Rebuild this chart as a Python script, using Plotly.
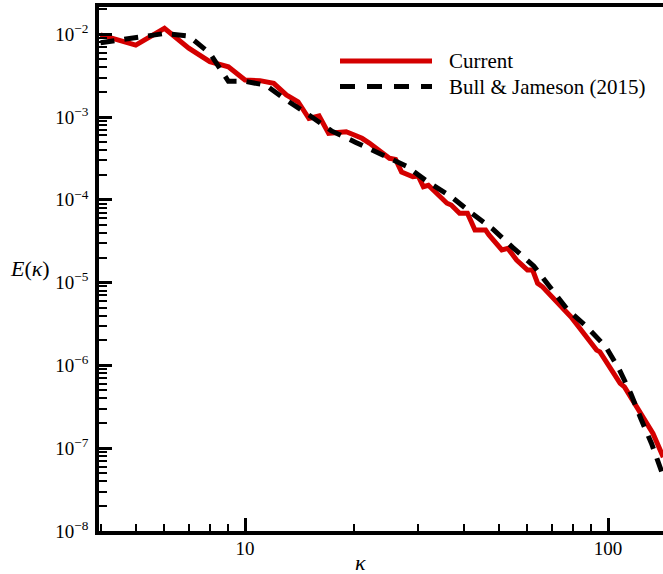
import math
import plotly.graph_objects as go

# ---- data ----
k_current = [4, 5, 6, 7, 8, 9, 10, 11, 12, 13, 14, 15, 16, 17, 18, 19, 20, 21, 22, 23, 24, 25, 26, 27,
             29, 30, 31, 32, 36, 37, 39, 41, 43, 46, 47, 51, 53, 56, 58, 60, 62, 64, 66, 71, 79, 83, 87,
             90, 93, 95, 100, 108, 111, 115, 122, 130, 133, 142]
e_current = [9.8e-3, 7.4e-3, 1.18e-2, 6.8e-3, 4.66e-3, 4.05e-3, 2.80e-3, 2.75e-3, 2.55e-3, 1.85e-3,
             1.53e-3, 9.6e-4, 1.03e-3, 6.35e-4, 6.5e-4, 6.64e-4, 6.07e-4, 5.53e-4, 4.85e-4, 4.19e-4,
             3.67e-4, 3.17e-4, 3.08e-4, 2.17e-4, 1.90e-4, 1.94e-4, 1.44e-4, 1.50e-4, 9.1e-5, 8.65e-5,
             6.87e-5, 6.87e-5, 4.31e-5, 4.31e-5, 3.76e-5, 2.48e-5, 2.59e-5, 1.87e-5, 1.63e-5, 1.42e-5,
             1.42e-5, 9.8e-6, 8.9e-6, 6.45e-6, 3.87e-6, 2.93e-6, 2.22e-6, 1.85e-6, 1.53e-6, 1.46e-6,
             1.03e-6, 6.08e-7, 5.5e-7, 4.3e-7, 2.8e-7, 1.75e-7, 1.51e-7, 7.8e-8]

k_bull = [4, 5, 6, 7, 8, 9, 10, 11.4, 13, 15, 17.3, 20.2, 23.6, 27.8, 31.8, 36.9, 42.2, 48.2, 54.7,
          62.5, 69.2, 77.1, 87.5, 98.7, 107.2, 115.7, 123.3, 131.8, 140, 142]
e_bull = [7.9e-3, 9.0e-3, 1.02e-2, 9.5e-3, 5.9e-3, 2.7e-3, 2.7e-3, 2.43e-3, 1.60e-3, 1.06e-3, 6.8e-4,
          4.94e-4, 3.65e-4, 2.56e-4, 1.66e-4, 1.10e-4, 6.84e-5, 4.43e-5, 2.65e-5, 1.58e-5, 8.85e-6,
          4.80e-6, 2.91e-6, 1.67e-6, 9.06e-7, 4.52e-7, 2.25e-7, 1.14e-7, 5.46e-8, 4.6e-8]

series_names = ["Current", "Bull & Jameson (2015)"]

y_tickvals = [1e-8, 1e-7, 1e-6, 1e-5, 1e-4, 1e-3, 1e-2]
y_ticktext = ["10<sup>\u22128</sup>", "10<sup>\u22127</sup>", "10<sup>\u22126</sup>",
              "10<sup>\u22125</sup>", "10<sup>\u22124</sup>", "10<sup>\u22123</sup>",
              "10<sup>\u22122</sup>"]
x_tickvals = [10, 100]
x_ticktext = ["10", "100"]

# ---- styling ----
FONT = "Liberation Serif, Times New Roman, serif"
RED = "#d40000"
W, H = 663, 574
ML, MR, MT, MB = 99, 0, 7, 43
PW, PH = W - ML - MR, H - MT - MB

x_minor = [m * 10 ** e for e in (0, 1, 2) for m in range(2, 10)]
y_minor = [m * 10.0 ** e for e in range(-8, -1) for m in range(2, 10)]

fig = go.Figure()
fig.add_trace(go.Scatter(x=k_current, y=e_current, mode="lines", name=series_names[0],
                         line=dict(color=RED, width=5), showlegend=False))
fig.add_trace(go.Scatter(x=k_bull, y=e_bull, mode="lines", name=series_names[1],
                         line=dict(color="black", width=5, dash="14px,10px"), showlegend=False))

fig.update_layout(
    width=W, height=H,
    margin=dict(l=ML, r=MR, t=MT, b=MB, pad=0),
    paper_bgcolor="white", plot_bgcolor="white",
    font=dict(family=FONT, size=19, color="black"),
    showlegend=False,
)
fig.update_xaxes(
    type="log", range=[0.5978, 2.1515],
    showgrid=False, zeroline=False,
    showline=True, linecolor="black", linewidth=3.5, mirror=True,
    ticks="inside", ticklen=13, tickwidth=2.5, tickcolor="black",
    tickmode="array", tickvals=x_tickvals, ticktext=x_ticktext,
    tickfont=dict(family=FONT, size=19, color="black"),
    ticklabelstandoff=-3,
    minor=dict(ticks="inside", ticklen=7, tickwidth=1.5, tickcolor="black",
               tickmode="array", tickvals=x_minor, showgrid=False),
)
fig.update_yaxes(
    type="log", range=[-8, -1.671],
    showgrid=False, zeroline=False,
    showline=True, linecolor="black", linewidth=3.5, mirror=False,
    ticks="inside", ticklen=13, tickwidth=2.5, tickcolor="black",
    tickmode="array", tickvals=y_tickvals, ticktext=y_ticktext,
    tickfont=dict(family=FONT, size=19, color="black"),
    ticklabelstandoff=3,
    minor=dict(ticks="inside", ticklen=8, tickwidth=1.5, tickcolor="black",
               tickmode="array", tickvals=y_minor, showgrid=False),
)

def px_to_paper(px, py):
    return (px - ML) / PW, (H - MB - py) / PH

# custom legend (long line samples as in the reference)
lx0, ly1 = px_to_paper(340, 61)
lx1, ly2 = px_to_paper(432, 86.5)
tx, _ = px_to_paper(447, 0)
fig.add_shape(type="line", xref="paper", yref="paper", x0=lx0, x1=lx1, y0=ly1, y1=ly1,
              line=dict(color=RED, width=5))
fig.add_shape(type="line", xref="paper", yref="paper", x0=lx0, x1=lx1, y0=ly2, y1=ly2,
              line=dict(color="black", width=5, dash="15px,12px"))
for name, yy in zip(series_names, [ly1, ly2]):
    fig.add_annotation(x=tx, y=yy, xref="paper", yref="paper", text=name, showarrow=False,
                       xanchor="left", yanchor="middle",
                       font=dict(family=FONT, size=21, color="black"))

# axis titles
ax_x, ax_y = px_to_paper(30, 268)
fig.add_annotation(x=ax_x, y=ax_y, xref="paper", yref="paper", text="<i>E</i>(<i>\u03ba</i>)",
                   showarrow=False, xanchor="center", yanchor="middle",
                   font=dict(family=FONT, size=22, color="black"))
kx, ky = px_to_paper(360, 562)
fig.add_annotation(x=kx, y=ky, xref="paper", yref="paper", text="<i>\u03ba</i>",
                   showarrow=False, xanchor="center", yanchor="middle",
                   font=dict(family=FONT, size=22, color="black"))

fig.write_html("out.html")
